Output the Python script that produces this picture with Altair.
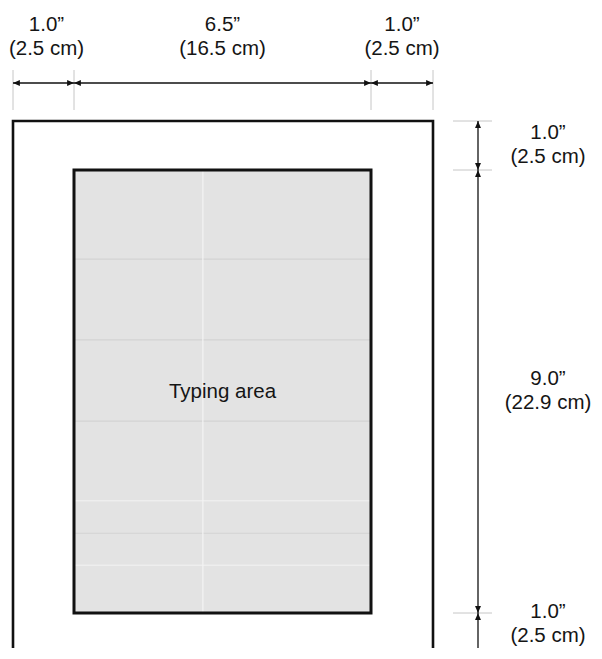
import altair as alt
import pandas as pd

# ---- page geometry (inches) ----
PAGE_W = 8.5
PAGE_H = 11.0
MARGIN = 1.0

# horizontal dimension segments (inches)
h_start = [0.0, 1.0, 7.5]
h_end = [1.0, 7.5, 8.5]
h_label = ["1.0\u201d\n(2.5 cm)", "6.5\u201d\n(16.5 cm)", "1.0\u201d\n(2.5 cm)"]

# vertical dimension segments (inches)
v_start = [0.0, 1.0, 10.0]
v_end = [1.0, 10.0, 11.0]
v_label = ["1.0\u201d\n(2.5 cm)", "9.0\u201d\n(22.9 cm)", "1.0\u201d\n(2.5 cm)"]

area_label = ["Typing area"]

# faint scan texture inside the typing area (inches)
tex_dark_y = [2.81, 4.45, 6.10, 8.38]
tex_light_y = [7.72, 9.03]
tex_light_x = [3.82]

# ---- data tables ----
page_df = pd.DataFrame({"x": [0.0], "x2": [PAGE_W], "y": [0.0], "y2": [PAGE_H]})
area_df = pd.DataFrame({"x": [MARGIN], "x2": [PAGE_W - MARGIN],
                        "y": [MARGIN], "y2": [PAGE_H - MARGIN], "label": area_label})
h_df = pd.DataFrame({"s": h_start, "e": h_end, "label": h_label})
v_df = pd.DataFrame({"s": v_start, "e": v_end, "label": v_label})
h_ext = pd.DataFrame({"x": h_start + [h_end[-1]]})
v_ext = pd.DataFrame({"y": v_start + [v_end[-1]]})
tex_dark = pd.DataFrame({"y": tex_dark_y})
tex_light = pd.DataFrame({"y": tex_light_y})
tex_vert = pd.DataFrame({"x": tex_light_x})

# piecewise scales (drawing is not to scale horizontally)
xs = alt.Scale(domain=[0, MARGIN, PAGE_W - MARGIN, PAGE_W], range=[5, 66, 363, 425],
               nice=False, zero=False)
ys = alt.Scale(domain=[0, MARGIN, PAGE_H - MARGIN, PAGE_H], range=[113, 162, 605, 654],
               nice=False, zero=False)

FONT = "Liberation Sans"
FS = 20.5
LH = 24
TXT = "#151515"

def X(f):
    return alt.X(f, type="quantitative", scale=xs, axis=None)

def Y(f):
    return alt.Y(f, type="quantitative", scale=ys, axis=None)

# arrowhead shapes, tip at origin
RIGHT = "M0,0L-1,-0.43L-1,0.43Z"
LEFT = "M0,0L1,-0.43L1,0.43Z"
DOWN = "M0,0L-0.43,-1L0.43,-1Z"
UP = "M0,0L-0.43,1L0.43,1Z"
AH = 190

area_fill = alt.Chart(area_df).mark_rect(fill="#e3e3e3", strokeWidth=0).encode(
    x=X("x"), x2="x2", y=Y("y"), y2="y2")

tex1 = alt.Chart(tex_dark).mark_rule(color="#d3d3d3", strokeWidth=1.2).encode(
    y=Y("y"), x=alt.value(67), x2=alt.value(362))
tex2 = alt.Chart(tex_light).mark_rule(color="#eeeeee", strokeWidth=1.5).encode(
    y=Y("y"), x=alt.value(67), x2=alt.value(362))
tex3 = alt.Chart(tex_vert).mark_rule(color="#f3f3f3", strokeWidth=1.2).encode(
    x=X("x"), y=alt.value(163), y2=alt.value(604))

area_border = alt.Chart(area_df).mark_rect(fillOpacity=0, stroke="#111111", strokeWidth=3).encode(
    x=X("x"), x2="x2", y=Y("y"), y2="y2")

page_border = alt.Chart(page_df).mark_rect(fillOpacity=0, stroke="#111111", strokeWidth=2.6).encode(
    x=X("x"), x2="x2", y=Y("y"), y2="y2")

area_text = alt.Chart(area_df).transform_calculate(
    cx="(datum.x + datum.x2) / 2", cy="(datum.y + datum.y2) / 2"
).mark_text(font=FONT, fontSize=FS, color=TXT, align="center", baseline="middle").encode(
    x=X("cx:Q"), y=Y("cy:Q"), text="label:N")

# extension lines
h_ext_rule = alt.Chart(h_ext).mark_rule(color="#c6c6c6", strokeWidth=1).encode(
    x=X("x"), y=alt.value(62), y2=alt.value(102))
v_ext_rule = alt.Chart(v_ext).mark_rule(color="#c6c6c6", strokeWidth=1).encode(
    y=Y("y"), x=alt.value(445), x2=alt.value(484))

# dimension lines
h_rule = alt.Chart(h_df).mark_rule(color="#111111", strokeWidth=1.3).encode(
    x=X("s"), x2="e", y=alt.value(75))
v_rule = alt.Chart(v_df).mark_rule(color="#111111", strokeWidth=1.3).encode(
    y=Y("s"), y2="e", x=alt.value(470))

def head(df, field, shape, horizontal):
    m = alt.Chart(df).mark_point(shape=shape, size=AH, filled=True, color="#111111",
                                 opacity=1, strokeWidth=0)
    if horizontal:
        return m.encode(x=X(field), y=alt.value(75))
    return m.encode(y=Y(field), x=alt.value(470))

heads = [
    head(h_df, "s", LEFT, True),
    head(h_df, "e", RIGHT, True),
    head(v_df, "s", UP, False),
    head(v_df, "e", DOWN, False),
]

def h_text(flt, dx):
    return alt.Chart(h_df).transform_filter(flt).transform_calculate(
        m="(datum.s + datum.e) / 2").mark_text(
        font=FONT, fontSize=FS, color=TXT, align="center", baseline="middle",
        lineBreak="\n", lineHeight=LH, dx=dx).encode(
        x=X("m:Q"), y=alt.value(17), text="label:N")

def v_text(flt, dy):
    return alt.Chart(v_df).transform_filter(flt).transform_calculate(
        m="(datum.s + datum.e) / 2").mark_text(
        font=FONT, fontSize=FS, color=TXT, align="center", baseline="middle",
        lineBreak="\n", lineHeight=LH, dy=dy).encode(
        y=Y("m:Q"), x=alt.value(540), text="label:N")

labels = [
    h_text("datum.s == 0", 3),
    h_text("datum.s > 0", 0),
    v_text("datum.e < 11", -13),
    v_text("datum.e == 11", -26),
]

chart = alt.layer(
    area_fill, tex1, tex2, tex3, area_border, page_border, area_text,
    h_ext_rule, v_ext_rule, h_rule, v_rule, *heads, *labels
).properties(
    width=586, height=640, autosize=alt.AutoSizeParams(type="none"), padding=0,
    background="white"
).configure_view(strokeWidth=0)

chart.save("out.html", embed_options={"renderer": "svg", "actions": False})
